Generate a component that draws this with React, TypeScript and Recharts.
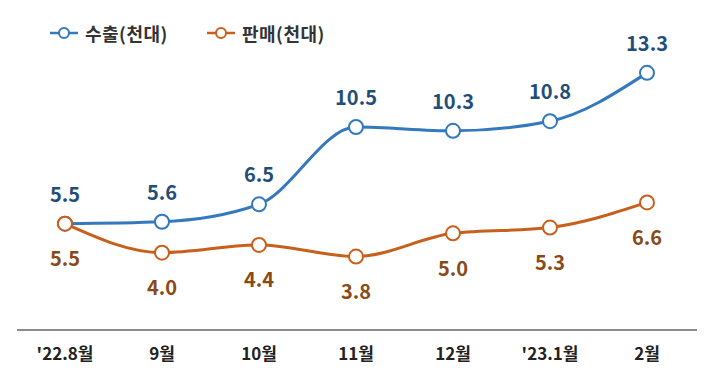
import React from 'react';
import { LineChart, Line, XAxis, YAxis, LabelList } from 'recharts';

const months = ["'22.8월", '9월', '10월', '11월', '12월', "'23.1월", '2월'];
const exports = [5.5, 5.6, 6.5, 10.5, 10.3, 10.8, 13.3];
const sales = [5.5, 4.0, 4.4, 3.8, 5.0, 5.3, 6.6];

const BLUE = '#3478bd';
const BLUE_TEXT = '#1f4e79';
const ORANGE = '#c8601c';
const ORANGE_TEXT = '#8a4a17';
const FONT = '"Noto Sans CJK KR", "Noto Sans", sans-serif';

const data = months.map((m, i) => ({ month: m, exports: exports[i], sales: sales[i] }));

const legendItems = [
  { name: '수출(천대)', color: BLUE, left: 49 },
  { name: '판매(천대)', color: ORANGE, left: 206 },
];

// legend drawn outside the chart so it doesn't eat into the plot area
const ChartLegend = () => (
  <>
    {legendItems.map(it => (
      <div key={it.name} style={{ position: 'absolute', top: 20, left: it.left, display: 'flex', alignItems: 'center', fontFamily: FONT, fontSize: 18, fontWeight: 700, color: '#333', letterSpacing: 0.5 }}>
        <svg width={30} height={14} style={{ marginRight: 6 }}>
          <line x1={1} y1={7} x2={29} y2={7} stroke={it.color} strokeWidth={2.5} />
          <circle cx={15} cy={7} r={5} fill="#fff" stroke={it.color} strokeWidth={2} />
        </svg>
        <span>{it.name}</span>
      </div>
    ))}
  </>
);

const App: React.FC = () => (
  <div style={{ position: 'absolute', top: 0, left: 0, width: 710, height: 384, background: '#fff' }}>
    <LineChart width={710} height={384} data={data} margin={{ top: 40, right: 13, left: 17, bottom: 0 }}>
      <XAxis
        dataKey="month"
        axisLine={{ stroke: '#8c8c8c', strokeWidth: 2 }}
        tickLine={false}
        height={54}
        padding={{ left: 48, right: 50 }}
        tick={{ fontFamily: FONT, fontSize: 17, fontWeight: 700, fill: '#222' }}
        dy={10}
      />
      <YAxis hide domain={[0, 15]} />
      <Line
        dataKey="exports"
        type="monotone"
        stroke={BLUE}
        strokeWidth={3}
        dot={{ r: 7, fill: '#fff', stroke: BLUE, strokeWidth: 2 }}
        isAnimationActive={false}
      >
        <LabelList dataKey="exports" position="top" offset={22} formatter={(v: number) => v.toFixed(1)}
          style={{ fontFamily: FONT, fontSize: 20, fontWeight: 700, fill: BLUE_TEXT }} />
      </Line>
      <Line
        dataKey="sales"
        type="monotone"
        stroke={ORANGE}
        strokeWidth={3}
        dot={{ r: 7, fill: '#fff', stroke: ORANGE, strokeWidth: 2 }}
        isAnimationActive={false}
      >
        <LabelList dataKey="sales" position="bottom" offset={28} formatter={(v: number) => v.toFixed(1)}
          style={{ fontFamily: FONT, fontSize: 20, fontWeight: 700, fill: ORANGE_TEXT }} />
      </Line>
    </LineChart>
    <ChartLegend />
  </div>
);

export default App;
